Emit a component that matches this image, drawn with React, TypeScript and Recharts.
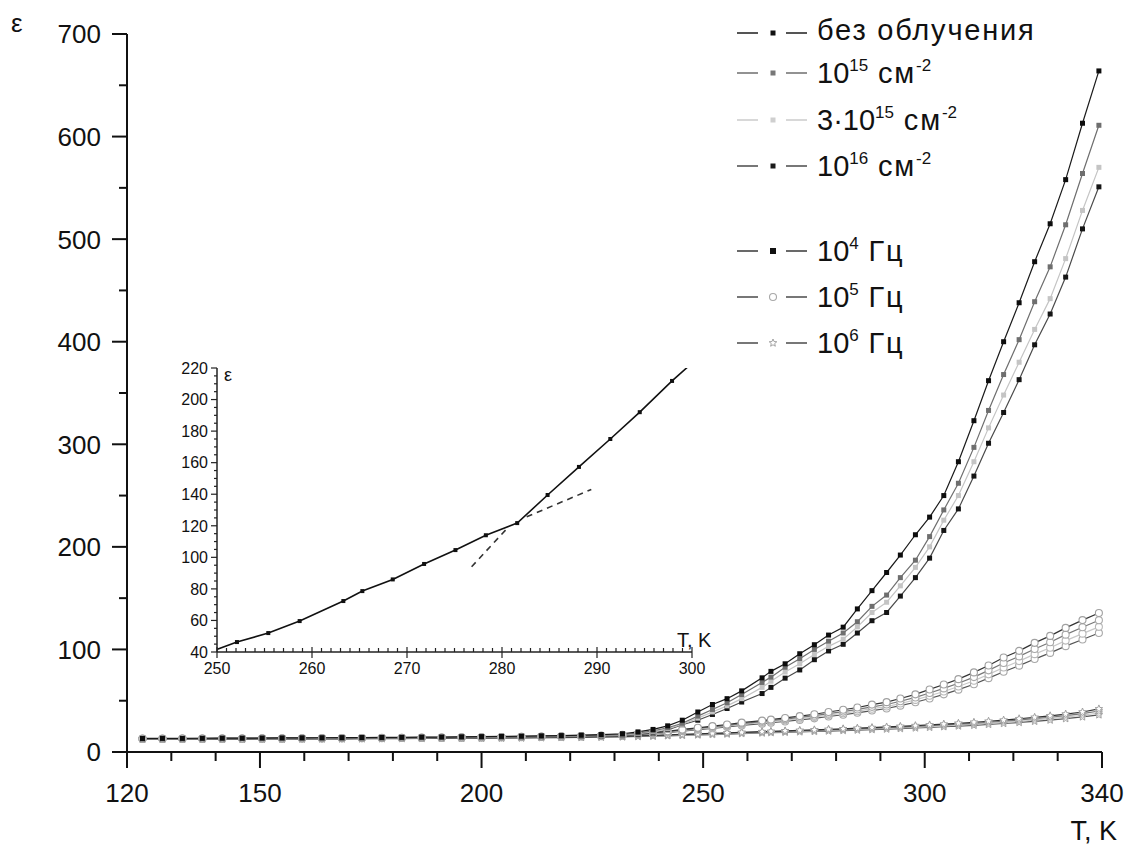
import React from 'react';
import { LineChart, Line, XAxis, YAxis, ReferenceLine } from 'recharts';

const FONT = '"Liberation Sans", Arial, Helvetica, sans-serif';
const INK = '#111';

// Measurement temperatures, K
const temperatureK = [
  123.5, 128, 132.5, 137, 141.5, 146, 150.5, 155, 159.5, 164, 168.5, 173, 177.5, 182, 186.5, 191, 195.5, 200, 204.5, 209, 213.5, 218, 222.5, 227,
  231.8, 235.3, 238.7, 242, 245.3, 248.8, 252.1, 255.4, 258.7, 263.3, 265.3, 268.5, 271.8, 275.1, 278.3, 281.6, 284.8, 288.1, 291.4, 294.5, 297.9,
  301.1, 304.3, 307.6, 311.1, 314.4, 317.8, 321.3, 324.8, 328.3, 331.8, 335.6, 339.3,
];

// ε at 10^4 Hz
const eps10kNone = [
  13.2, 13.3, 13.3, 13.4, 13.5, 13.5, 13.6, 13.7, 13.8, 13.9, 14.0, 14.1, 14.2, 14.3, 14.5, 14.6, 14.8, 15.0, 15.2, 15.4, 15.7, 16.0, 16.4, 17.0,
  17.8, 19.6, 22.0, 25.5, 31.0, 39.0, 46.3, 52.0, 59.6, 72.3, 78.6, 86.0, 95.8, 104.6, 114.0, 121.7, 139.5, 157.3, 175.0, 192.0, 211.8,
  229, 250, 283, 323, 362, 400, 438, 478, 515, 558, 613, 664,
];
const eps10kD15 = [
  13.0, 13.1, 13.1, 13.2, 13.3, 13.3, 13.4, 13.5, 13.6, 13.7, 13.8, 13.9, 14.0, 14.1, 14.2, 14.4, 14.5, 14.7, 14.9, 15.1, 15.4, 15.7, 16.0, 16.5,
  17.0, 18.5, 20.6, 23.6, 28.0, 35.0, 41.5, 48.0, 56.0, 67.8, 73.0, 82.6, 91.0, 100.0, 108.0, 116.0, 127.0, 142.0, 153.0, 170.0, 187.0,
  210, 236, 262, 297, 333, 368, 402, 439, 473, 514, 564, 611,
];
const eps10kD3x15 = [
  12.9, 13.0, 13.0, 13.1, 13.2, 13.2, 13.3, 13.4, 13.5, 13.6, 13.7, 13.8, 13.9, 14.0, 14.1, 14.2, 14.4, 14.6, 14.8, 15.0, 15.2, 15.5, 15.8, 16.2,
  16.5, 17.8, 19.6, 22.6, 27.0, 33.0, 39.0, 45.0, 52.0, 63.0, 69.0, 78.0, 86.0, 95.0, 103.0, 110.0, 122.0, 136.0, 146.0, 162.0, 180.0,
  200, 226, 250, 283, 316, 348, 380, 412, 442, 481, 528, 570,
];
const eps10kD16 = [
  12.8, 12.9, 12.9, 13.0, 13.0, 13.1, 13.2, 13.2, 13.3, 13.4, 13.5, 13.6, 13.7, 13.8, 13.9, 14.0, 14.2, 14.3, 14.5, 14.7, 14.9, 15.1, 15.4, 15.7,
  16.0, 17.0, 18.5, 21.6, 26.6, 31.0, 36.6, 42.4, 48.7, 57.0, 63.0, 72.0, 80.0, 90.0, 98.5, 105.0, 116.0, 128.0, 136.0, 152.0, 170.0,
  189, 216, 237, 269, 301, 331, 363, 397, 427, 463, 510, 551,
];

// ε at 10^5 Hz
const eps100kNone = [
  13.0, 13.0, 13.1, 13.1, 13.2, 13.2, 13.3, 13.3, 13.4, 13.5, 13.6, 13.7, 13.8, 13.9, 14.0, 14.1, 14.3, 14.4, 14.6, 14.8, 15.0, 15.3, 15.6, 16.0,
  16.8, 17.6, 18.8, 20.2, 22.0, 23.6, 25.2, 26.8, 28.6, 30.6, 31.6, 33.2, 35.0, 36.8, 39.0, 41.2, 43.4, 46.2, 48.6, 52.2, 56.2,
  61.0, 65.8, 71.0, 77.6, 84.4, 92.2, 98.6, 106.4, 113.2, 121.0, 128.6, 135.5,
];
const eps100kD15 = [
  12.9, 12.9, 13.0, 13.0, 13.1, 13.1, 13.2, 13.2, 13.3, 13.4, 13.5, 13.6, 13.7, 13.8, 13.9, 14.0, 14.2, 14.3, 14.5, 14.7, 14.9, 15.2, 15.5, 15.8,
  16.5, 17.3, 18.4, 19.8, 21.4, 23.0, 24.5, 26.0, 27.7, 29.6, 30.5, 32.0, 33.7, 35.4, 37.4, 39.4, 41.5, 44.0, 46.3, 49.5, 53.2,
  57.5, 62.0, 67.0, 73.0, 79.6, 86.8, 93.2, 100.4, 107.0, 114.4, 121.6, 128.5,
];
const eps100kD3x15 = [
  12.8, 12.8, 12.9, 12.9, 13.0, 13.0, 13.1, 13.1, 13.2, 13.3, 13.4, 13.5, 13.6, 13.7, 13.8, 13.9, 14.1, 14.2, 14.4, 14.6, 14.8, 15.1, 15.4, 15.6,
  16.3, 17.0, 18.0, 19.4, 20.9, 22.4, 23.8, 25.2, 26.8, 28.6, 29.5, 30.9, 32.5, 34.1, 36.0, 37.8, 39.8, 42.2, 44.3, 47.3, 50.8,
  54.8, 59.0, 63.8, 69.5, 75.7, 82.4, 88.6, 95.4, 101.7, 108.6, 115.4, 122.0,
];
const eps100kD16 = [
  12.7, 12.7, 12.8, 12.8, 12.9, 12.9, 13.0, 13.0, 13.1, 13.2, 13.3, 13.4, 13.5, 13.6, 13.7, 13.8, 14.0, 14.1, 14.3, 14.5, 14.7, 14.9, 15.2, 15.4,
  16.0, 16.7, 17.6, 18.9, 20.4, 21.8, 23.1, 24.4, 25.9, 27.6, 28.5, 29.8, 31.3, 32.8, 34.6, 36.3, 38.2, 40.4, 42.4, 45.2, 48.5,
  52.2, 56.2, 60.8, 66.1, 72.0, 78.3, 84.2, 90.6, 96.6, 103.2, 109.7, 116.0,
];

// ε at 10^6 Hz
const eps1MNone = [
  12.6, 12.6, 12.7, 12.7, 12.8, 12.8, 12.9, 12.9, 13.0, 13.1, 13.1, 13.2, 13.3, 13.4, 13.5, 13.6, 13.7, 13.8, 13.9, 14.0, 14.2, 14.4, 14.6, 14.9,
  15.3, 15.7, 16.1, 16.6, 17.1, 17.6, 18.1, 18.6, 19.1, 19.8, 20.1, 20.6, 21.1, 21.6, 22.1, 22.6, 23.2, 23.8, 24.4, 25.0, 25.7,
  26.4, 27.2, 28.0, 29.0, 30.0, 31.1, 32.4, 33.8, 35.3, 37.0, 39.0, 42.0,
];
const eps1MD15 = [
  12.5, 12.5, 12.6, 12.6, 12.7, 12.7, 12.8, 12.8, 12.9, 13.0, 13.0, 13.1, 13.2, 13.3, 13.4, 13.5, 13.6, 13.7, 13.8, 13.9, 14.1, 14.3, 14.5, 14.8,
  15.1, 15.5, 15.9, 16.4, 16.8, 17.3, 17.8, 18.3, 18.8, 19.4, 19.7, 20.2, 20.6, 21.1, 21.6, 22.1, 22.6, 23.2, 23.7, 24.3, 25.0,
  25.6, 26.4, 27.1, 28.0, 29.0, 30.0, 31.2, 32.5, 33.9, 35.5, 37.4, 40.0,
];
const eps1MD3x15 = [
  12.4, 12.4, 12.5, 12.5, 12.6, 12.6, 12.7, 12.7, 12.8, 12.9, 12.9, 13.0, 13.1, 13.2, 13.3, 13.4, 13.5, 13.6, 13.7, 13.8, 14.0, 14.2, 14.4, 14.6,
  14.9, 15.3, 15.7, 16.1, 16.5, 17.0, 17.4, 17.9, 18.4, 19.0, 19.3, 19.7, 20.1, 20.6, 21.0, 21.5, 22.0, 22.5, 23.0, 23.6, 24.2,
  24.8, 25.5, 26.2, 27.0, 27.9, 28.9, 30.0, 31.2, 32.5, 34.0, 35.8, 38.0,
];
const eps1MD16 = [
  12.3, 12.3, 12.4, 12.4, 12.5, 12.5, 12.6, 12.6, 12.7, 12.8, 12.8, 12.9, 13.0, 13.1, 13.2, 13.3, 13.4, 13.5, 13.6, 13.7, 13.9, 14.1, 14.3, 14.5,
  14.7, 15.1, 15.4, 15.8, 16.2, 16.6, 17.0, 17.5, 17.9, 18.5, 18.8, 19.2, 19.6, 20.0, 20.4, 20.9, 21.3, 21.8, 22.3, 22.8, 23.4,
  24.0, 24.6, 25.3, 26.0, 26.9, 27.8, 28.8, 29.9, 31.1, 32.5, 34.2, 36.2,
];

// Axis ticks and labels
const mainXTicks = [120, 130, 140, 150, 160, 170, 180, 190, 200, 210, 220, 230, 240, 250, 260, 270, 280, 290, 300, 310, 320, 330, 340];
const mainXLabels = [120, 150, 200, 250, 300, 340];
const mainYTicks = [0, 50, 100, 150, 200, 250, 300, 350, 400, 450, 500, 550, 600, 650, 700];
const mainYLabels = [0, 100, 200, 300, 400, 500, 600, 700];
const insetXLabels = [250, 260, 270, 280, 290, 300];
const insetYLabels = [40, 60, 80, 100, 120, 140, 160, 180, 200, 220];
const insetXTicks = Array.from({ length: 51 }, (_, i) => 250 + i);
const insetYTicks = Array.from({ length: 37 }, (_, i) => 40 + i * 5);

// Tangent guides around the kink of the unirradiated 10^4 Hz curve
const guideSteep = [{ T: 276.8, eps: 94 }, { T: 280.7, eps: 119.4 }];
const guideShallow = [{ T: 282.6, eps: 125.7 }, { T: 289.4, eps: 143 }];

type Shape = 'square' | 'circle' | 'star';

const series: { key: string; values: number[]; stroke: string; shape: Shape; mark: string; size: number }[] = [
  { key: 'f6d16', values: eps1MD16, stroke: '#555', shape: 'star', mark: '#9a9a9a', size: 8 },
  { key: 'f6d3', values: eps1MD3x15, stroke: '#c8c8c8', shape: 'star', mark: '#b0b0b0', size: 8 },
  { key: 'f6d15', values: eps1MD15, stroke: '#777', shape: 'star', mark: '#9a9a9a', size: 8 },
  { key: 'f6n', values: eps1MNone, stroke: '#333', shape: 'star', mark: '#9a9a9a', size: 8 },
  { key: 'f5d16', values: eps100kD16, stroke: '#555', shape: 'circle', mark: '#a8a8a8', size: 7 },
  { key: 'f5d3', values: eps100kD3x15, stroke: '#c8c8c8', shape: 'circle', mark: '#b8b8b8', size: 7 },
  { key: 'f5d15', values: eps100kD15, stroke: '#777', shape: 'circle', mark: '#a8a8a8', size: 7 },
  { key: 'f5n', values: eps100kNone, stroke: '#333', shape: 'circle', mark: '#a0a0a0', size: 7 },
  { key: 'f4d16', values: eps10kD16, stroke: '#4a4a4a', shape: 'square', mark: '#151515', size: 5 },
  { key: 'f4d3', values: eps10kD3x15, stroke: '#c4c4c4', shape: 'square', mark: '#c4c4c4', size: 5 },
  { key: 'f4d15', values: eps10kD15, stroke: '#6e6e6e', shape: 'square', mark: '#6e6e6e', size: 5 },
  { key: 'f4n', values: eps10kNone, stroke: '#1a1a1a', shape: 'square', mark: '#0d0d0d', size: 5 },
];

const table = temperatureK.map((T, i) => {
  const row: Record<string, number> = { T };
  series.forEach((s) => {
    row[s.key] = s.values[i];
  });
  return row;
});

function starPath(cx: number, cy: number, R: number, r: number) {
  let d = '';
  for (let i = 0; i < 10; i++) {
    const a = -Math.PI / 2 + (i * Math.PI) / 5;
    const rad = i % 2 === 0 ? R : r;
    d += (i === 0 ? 'M' : 'L') + (cx + rad * Math.cos(a)).toFixed(2) + ',' + (cy + rad * Math.sin(a)).toFixed(2);
  }
  return d + 'Z';
}

function Marker({ shape, cx, cy, color, size }: { shape: Shape; cx: number; cy: number; color: string; size: number }) {
  if (shape === 'square') {
    return <rect x={cx - size / 2} y={cy - size / 2} width={size} height={size} fill={color} />;
  }
  if (shape === 'circle') {
    return <circle cx={cx} cy={cy} r={size / 2} fill="#fff" stroke={color} strokeWidth={1.1} />;
  }
  return <path d={starPath(cx, cy, size / 2, size / 4.5)} fill="#fff" stroke={color} strokeWidth={0.9} />;
}

const makeDot = (shape: Shape, color: string, size: number) => (props: any) => {
  const { cx, cy, index } = props;
  const k = `dot-${index}`;
  if (typeof cx !== 'number' || typeof cy !== 'number') return <g key={k} />;
  return (
    <g key={k}>
      <Marker shape={shape} cx={cx} cy={cy} color={color} size={size} />
    </g>
  );
};

const MainXTick = (props: any) => {
  const { x, y, payload } = props;
  const v = payload.value as number;
  const labelled = mainXLabels.includes(v);
  return (
    <g>
      <line x1={x} x2={x} y1={y} y2={y + (labelled ? 16 : 9)} stroke={INK} strokeWidth={2} />
      {labelled && (
        <text x={x} y={y + 50} textAnchor="middle" fontSize={26} fontFamily={FONT} fill={INK}>
          {v}
        </text>
      )}
    </g>
  );
};

const MainYTick = (props: any) => {
  const { x, y, payload } = props;
  const v = payload.value as number;
  const labelled = mainYLabels.includes(v);
  return (
    <g>
      <line x1={x - (labelled ? 15 : 8)} x2={x} y1={y} y2={y} stroke={INK} strokeWidth={2} />
      {labelled && (
        <text x={x - 26} y={y} dy="0.36em" textAnchor="end" fontSize={26} fontFamily={FONT} fill={INK}>
          {v}
        </text>
      )}
    </g>
  );
};

const InsetXTick = (props: any) => {
  const { x, y, payload } = props;
  const v = payload.value as number;
  const labelled = insetXLabels.includes(v);
  return (
    <g>
      <line x1={x} x2={x} y1={y - (labelled ? 5 : 4)} y2={y + (labelled ? 6 : 0)} stroke="#222" strokeWidth={1.2} />
      {labelled && (
        <text x={x} y={y + 22} textAnchor="middle" fontSize={16} fontFamily={FONT} fill={INK}>
          {v}
        </text>
      )}
    </g>
  );
};

const InsetYTick = (props: any) => {
  const { x, y, payload } = props;
  const v = payload.value as number;
  const labelled = insetYLabels.includes(v);
  return (
    <g>
      <line x1={x - (labelled ? 6 : 3)} x2={x} y1={y} y2={y} stroke="#222" strokeWidth={1.2} />
      {labelled && (
        <text x={x - 9} y={y} dy="0.36em" textAnchor="end" fontSize={16} fontFamily={FONT} fill={INK}>
          {v}
        </text>
      )}
    </g>
  );
};

type Part = { t: string; sup?: boolean; wide?: boolean };
const legendEntries: { parts: Part[]; line: string; shape: Shape; mark: string; size: number; y: number; lower?: boolean }[] = [
  { parts: [{ t: 'без облучения', wide: true }], line: '#2a2a2a', shape: 'square', mark: '#111', size: 5, y: 33, lower: true },
  { parts: [{ t: '10' }, { t: '15', sup: true }, { t: ' см', wide: true }, { t: '-2', sup: true }], line: '#777', shape: 'square', mark: '#777', size: 5, y: 73 },
  { parts: [{ t: '3·10' }, { t: '15', sup: true }, { t: ' см', wide: true }, { t: '-2', sup: true }], line: '#cfcfcf', shape: 'square', mark: '#cfcfcf', size: 5, y: 120 },
  { parts: [{ t: '10' }, { t: '16', sup: true }, { t: ' см', wide: true }, { t: '-2', sup: true }], line: '#555', shape: 'square', mark: '#1a1a1a', size: 5, y: 166 },
  { parts: [{ t: '10' }, { t: '4', sup: true }, { t: ' Гц', wide: true }], line: '#444', shape: 'square', mark: '#111', size: 6, y: 251 },
  { parts: [{ t: '10' }, { t: '5', sup: true }, { t: ' Гц', wide: true }], line: '#555', shape: 'circle', mark: '#a8a8a8', size: 7, y: 297 },
  { parts: [{ t: '10' }, { t: '6', sup: true }, { t: ' Гц', wide: true }], line: '#555', shape: 'star', mark: '#999', size: 8, y: 343 },
];

function LegendRow({ e }: { e: (typeof legendEntries)[number] }) {
  const base = e.y + (e.lower ? 7 : 10);
  let shifted = false;
  return (
    <g>
      <line x1={737} x2={758} y1={e.y} y2={e.y} stroke={e.line} strokeWidth={1.6} />
      <Marker shape={e.shape} cx={773} cy={e.y} color={e.mark} size={e.size} />
      <line x1={786} x2={807} y1={e.y} y2={e.y} stroke={e.line} strokeWidth={1.6} />
      <text x={817} y={base} fontSize={29} fontFamily={FONT} fill={INK} style={{ whiteSpace: 'pre' }}>
        {e.parts.map((p, i) => {
          let dy = 0;
          if (p.sup && !shifted) {
            dy = -12;
            shifted = true;
          } else if (!p.sup && shifted) {
            dy = 12;
            shifted = false;
          }
          return (
            <tspan key={i} dy={dy} fontSize={p.sup ? 17 : 29} letterSpacing={p.wide ? 1.8 : 0}>
              {p.t}
            </tspan>
          );
        })}
      </text>
    </g>
  );
}

export default function App() {
  return (
    <div style={{ position: 'absolute', left: 0, top: 0, width: 1130, height: 848, background: '#fff', fontFamily: FONT }}>
      <LineChart width={1130} height={848} data={table} margin={{ top: 34, right: 28, bottom: 66, left: 67 }}>
        <XAxis
          dataKey="T"
          type="number"
          domain={[120, 340]}
          ticks={mainXTicks}
          interval={0}
          tickSize={0}
          tickMargin={0}
          tickLine={false}
          axisLine={{ stroke: INK, strokeWidth: 2 }}
          tick={(p: any) => <MainXTick {...p} />}
          height={30}
        />
        <YAxis
          type="number"
          domain={[0, 700]}
          ticks={mainYTicks}
          interval={0}
          tickSize={0}
          tickMargin={0}
          tickLine={false}
          axisLine={{ stroke: INK, strokeWidth: 2 }}
          tick={(p: any) => <MainYTick {...p} />}
          width={60}
        />
        {series.map((s) => (
          <Line
            key={s.key}
            dataKey={s.key}
            type="linear"
            stroke={s.stroke}
            strokeWidth={1.2}
            dot={makeDot(s.shape, s.mark, s.size)}
            activeDot={false}
            isAnimationActive={false}
          />
        ))}
      </LineChart>

      <div style={{ position: 'absolute', left: 150, top: 350 }}>
        <LineChart width={570} height={330} data={table} margin={{ top: 18, right: 28, bottom: 8, left: 27 }}>
          <XAxis
            dataKey="T"
            type="number"
            domain={[250, 300]}
            allowDataOverflow
            ticks={insetXTicks}
            interval={0}
            tickSize={0}
            tickMargin={0}
            tickLine={false}
            axisLine={{ stroke: '#222', strokeWidth: 1.5 }}
            tick={(p: any) => <InsetXTick {...p} />}
            height={20}
          />
          <YAxis
            type="number"
            domain={[40, 220]}
            allowDataOverflow
            ticks={insetYTicks}
            interval={0}
            tickSize={0}
            tickMargin={0}
            tickLine={false}
            axisLine={{ stroke: '#222', strokeWidth: 1.5 }}
            tick={(p: any) => <InsetYTick {...p} />}
            width={40}
          />
          <ReferenceLine
            segment={guideSteep.map((g) => ({ x: g.T, y: g.eps }))}
            stroke="#333"
            strokeWidth={1.6}
            strokeDasharray="6 5"
          />
          <ReferenceLine
            segment={guideShallow.map((g) => ({ x: g.T, y: g.eps }))}
            stroke="#333"
            strokeWidth={1.6}
            strokeDasharray="6 5"
          />
          <Line
            dataKey="f4n"
            type="linear"
            stroke="#111"
            strokeWidth={1.6}
            dot={makeDot('square', '#111', 4)}
            activeDot={false}
            isAnimationActive={false}
          />
        </LineChart>
      </div>

      <svg width={1130} height={848} style={{ position: 'absolute', left: 0, top: 0, pointerEvents: 'none' }}>
        <text x={11} y={32} fontSize={26} fontFamily={FONT} fill={INK}>ε</text>
        <text x={1117} y={840} textAnchor="end" fontSize={27} fontFamily={FONT} fill={INK}>T, K</text>
        <text x={224} y={381} fontSize={18} fontFamily={FONT} fill={INK}>ε</text>
        <text x={677} y={647} fontSize={20} fontFamily={FONT} fill={INK}>T, K</text>
        {legendEntries.map((e, i) => (
          <LegendRow key={i} e={e} />
        ))}
      </svg>
    </div>
  );
}
